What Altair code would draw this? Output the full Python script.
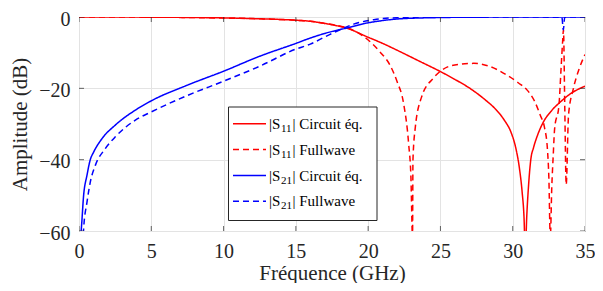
import altair as alt
import pandas as pd

# ---------------- data ----------------
s11c_f = [0, 2.5, 5, 7.5, 10, 12.5, 15, 16, 17, 18, 18.5, 19.9, 21, 22.2, 23.5, 25, 26, 27, 28,
          28.8, 29.4, 29.9, 30.2, 30.45, 30.65, 30.78, 30.87, 30.97, 31.1, 31.25, 31.45, 31.75,
          32.1, 32.7, 33.3, 34, 35]
s11c_db = [0, -0.01, -0.05, -0.12, -0.25, -0.5, -0.9, -1.2, -1.8, -2.6, -3.1, -5.5, -7.4, -9.7, -12.3,
           -15.3, -17.5, -19.9, -22.9, -25.8, -28.8, -32.5, -36.5, -42, -49, -56, -66, -56, -47,
           -40, -36.5, -32.8, -29.6, -26.2, -23.8, -21.5, -19.4]

s11f_f = [0, 5, 10, 12.5, 15, 16, 17, 18, 18.5, 19.7, 20.8, 21.5, 22, 22.45, 22.8, 22.96, 23.07,
          23.1, 23.26, 23.7, 24.5, 25.5, 26.4, 27.3, 28.3, 29.6, 30.4, 31, 31.5,
          31.9, 32.2, 32.4, 32.5, 32.6, 32.7, 32.8, 32.9, 33.2, 33.35, 33.45, 33.51, 33.6, 33.7,
          33.86, 34.2, 34.6, 35]
s11f_db = [0, -0.05, -0.3, -0.5, -0.9, -1.2, -1.8, -2.5, -3.0, -5.5, -9.7, -13.4, -18.1, -24.2, -35.5,
           -45, -62, -40, -31, -22.4, -17.2, -14, -13.2, -13, -13.7, -16.3,
           -18.5, -20.5, -23.5, -27.5, -31, -37, -45, -62, -48, -39, -31.3, -24.7, -14, -7, -3.6,
           -25, -47, -27.5, -20, -14.5, -10.5]

s21c_f = [0.1, 0.16, 0.32, 0.55, 0.78, 1.01, 1.59, 2.51, 3.9, 5, 7.5, 10, 12.5, 15, 16, 17, 18.5,
          19.9, 21, 22.2, 25, 27.5, 30, 35]
s21c_db = [-62, -59.4, -50, -44.4, -40, -37.9, -34.1, -30.3, -26.1, -23.5, -19.1, -15.2, -11, -7.4,
           -5.9, -4.6, -3.1, -1.7, -1.0, -0.5, -0.15, -0.05, -0.02, 0]

s21f_f = [0.3, 0.32, 0.55, 0.78, 1.13, 1.82, 2.51, 3.9, 5, 7.5, 10, 12.5, 15, 16, 17, 18.3, 19, 20.4,
          22, 24, 27, 33.4, 33.5, 33.6, 35]
s21f_db = [-61, -59.4, -52, -46.3, -41.6, -36.9, -33.6, -28.9, -26.6, -22, -18, -13.8, -9, -7.6, -5.6,
           -3.1, -2.0, -0.75, -0.2, -0.05, 0, -0.05, -3.6, -0.05, 0]

series_names = ["S11 Circuit", "S11 Fullwave", "S21 Circuit", "S21 Fullwave"]
series_colors = ["#ff0000", "#ff0000", "#0000ff", "#0000ff"]
series_dashes = [[1, 0], [6, 4], [1, 0], [6, 4]]
legend_sub = ["11", "11", "21", "21"]
legend_text = ["| Circuit éq.", "| Fullwave", "| Circuit éq.", "| Fullwave"]

x_ticks = [0, 5, 10, 15, 20, 25, 30, 35]
y_ticks = [-60, -40, -20, 0]

# ---------------- build table ----------------
rows = []
for name, fs, ds in zip(series_names,
                        [s11c_f, s11f_f, s21c_f, s21f_f],
                        [s11c_db, s11f_db, s21c_db, s21f_db]):
    for i, (f, d) in enumerate(zip(fs, ds)):
        rows.append({"series": name, "f": f, "db": d, "order": i})
df = pd.DataFrame(rows)

FONT = "'Liberation Serif', 'Times New Roman', Times, serif"
DARK = "#262626"

xscale = alt.Scale(domain=[0, 35], nice=False, zero=False)
yscale = alt.Scale(domain=[-60, 0], nice=False, zero=False)
axis_style = dict(ticks=False, domain=False, grid=True, labelFlush=False,
                  labelFont=FONT, labelFontSize=20, labelColor=DARK,
                  titleFont=FONT, titleFontSize=21, titleFontWeight="normal", titleColor=DARK,
                  gridColor="#e3e3e3", gridWidth=1)
x_enc = alt.X("f:Q", scale=xscale,
              axis=alt.Axis(values=x_ticks, title="Fréquence (GHz)", labelPadding=10,
                            titlePadding=1, **axis_style))
y_enc = alt.Y("db:Q", scale=yscale,
              axis=alt.Axis(values=y_ticks, title="Amplitude (dB)", labelPadding=9,
                            labelOffset=2, titlePadding=8, **axis_style))

lines = alt.Chart(df).mark_line(strokeWidth=1.5, clip=True, interpolate="monotone").encode(
    x=x_enc,
    y=y_enc,
    color=alt.Color("series:N", scale=alt.Scale(domain=series_names, range=series_colors), legend=None),
    strokeDash=alt.StrokeDash("series:N", scale=alt.Scale(domain=series_names, range=series_dashes),
                              legend=None),
    order="order:Q",
    detail="series:N",
)

# inward ticks (box on all four sides)
xt = pd.DataFrame([{"f": t, "db": yy} for t in x_ticks for yy in (-60, 0)])
yt = pd.DataFrame([{"f": xx, "db": t} for t in y_ticks for xx in (0, 35)])
xticks = alt.Chart(xt).mark_tick(orient="vertical", size=10, thickness=1, clip=True, color=DARK).encode(
    x=x_enc, y=y_enc)
yticks = alt.Chart(yt).mark_tick(orient="horizontal", size=10, thickness=1, clip=True, color=DARK).encode(
    x=x_enc, y=y_enc)

# ---------------- custom legend (pixel layout inside the plot area) ----------------
one = pd.DataFrame({"a": [0]})
LX0, LX1, LY0, LY1 = 149.5, 298, 90, 203.5
row_y = [106.7, 132.5, 158.5, 184.3]
box = alt.Chart(one).mark_rect(fill="white", stroke=DARK, strokeWidth=1).encode(
    x=alt.value(LX0), x2=alt.value(LX1), y=alt.value(LY0), y2=alt.value(LY1))
legend_layers = [box]
for i in range(4):
    ry = row_y[i]
    legend_layers.append(
        alt.Chart(one).mark_rule(color=series_colors[i], strokeWidth=1.5,
                                 strokeDash=series_dashes[i]).encode(
            x=alt.value(154), x2=alt.value(187), y=alt.value(ry)))
    legend_layers.append(
        alt.Chart(one).mark_text(text="|S", align="left", baseline="middle", font=FONT,
                                 fontSize=15, color="black").encode(
            x=alt.value(190), y=alt.value(ry)))
    legend_layers.append(
        alt.Chart(one).mark_text(text=legend_sub[i], align="left", baseline="middle", font=FONT,
                                 fontSize=11, color="black").encode(
            x=alt.value(202), y=alt.value(ry + 5)))
    legend_layers.append(
        alt.Chart(one).mark_text(text=legend_text[i], align="left", baseline="middle", font=FONT,
                                 fontSize=15, color="black").encode(
            x=alt.value(213.5), y=alt.value(ry)))

chart = alt.layer(lines, xticks, yticks, *legend_layers).properties(
    width=506, height=214,
    autosize=alt.AutoSizeParams(type="none"),
    padding={"left": 71, "top": 9, "right": 10, "bottom": 52},
    background="white",
).configure_view(
    stroke=DARK, strokeWidth=1
)

chart.save("out.html", embed_options={"renderer": "svg", "actions": False})
